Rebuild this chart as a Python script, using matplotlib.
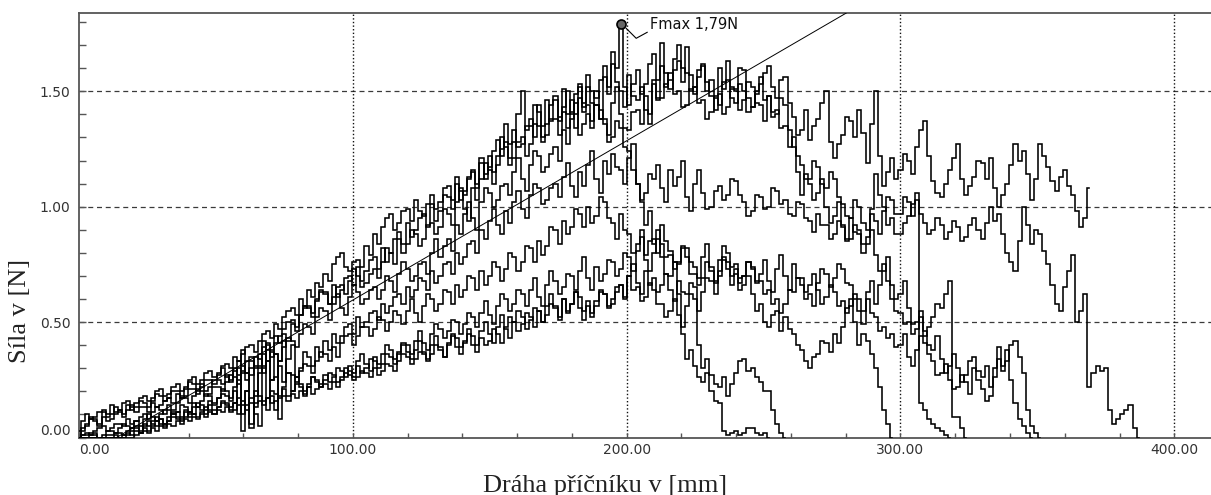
import numpy as np
import matplotlib
matplotlib.use("Agg")
import matplotlib.pyplot as plt
from matplotlib.lines import Line2D
from matplotlib.transforms import IdentityTransform

# Crosshead travel is sampled every 1.5 mm; each list holds the force [N] per sample
sample_step_mm = 1.5

force_1 = [0.03, 0.07, 0.10, 0.08, 0.09, 0.11, 0.12, 0.10, 0.14, 0.11, 0.12, 0.15, 0.16, 0.13, 0.15, 0.17, 0.18, 0.16, 0.17, 0.20,
           0.21, 0.18, 0.19, 0.22, 0.23, 0.20, 0.22, 0.25, 0.26, 0.23, 0.25, 0.28, 0.29, 0.26, 0.28, 0.31, 0.32, 0.30, 0.35, 0.33,
           0.36, 0.39, 0.40, 0.37, 0.42, 0.45, 0.46, 0.43, 0.49, 0.47, 0.52, 0.55, 0.56, 0.53, 0.60, 0.57, 0.64, 0.61, 0.67, 0.65,
           0.71, 0.68, 0.75, 0.78, 0.80, 0.74, 0.72, 0.76, 0.77, 0.74, 0.83, 0.79, 0.88, 0.84, 0.91, 0.95, 0.97, 0.90, 0.93, 0.98,
           0.99, 0.94, 1.03, 0.98, 0.96, 1.01, 1.05, 0.99, 1.02, 1.08, 1.09, 1.03, 1.13, 1.07, 1.05, 1.12, 1.16, 1.10, 1.21, 1.14,
           1.17, 1.24, 1.29, 1.22, 1.36, 1.27, 1.28, 1.40, 1.50, 1.33, 1.35, 1.44, 1.41, 1.30, 1.31, 1.38, 1.46, 1.37, 1.51, 1.40,
           1.41, 1.49, 1.53, 1.45, 1.57, 1.50, 1.47, 1.55, 1.61, 1.52, 1.67, 1.60, 1.79, 1.52, 1.44, 1.53, 1.59, 1.49, 1.53, 1.62,
           1.66, 1.55, 1.71, 1.58, 1.51, 1.59, 1.63, 1.54, 1.69, 1.57, 1.49, 1.56, 1.61, 1.50, 1.55, 1.47, 1.44, 1.54, 1.63, 1.52,
           1.51, 1.60, 1.59, 1.47, 1.43, 1.50, 1.53, 1.58, 1.61, 1.52, 1.47, 1.55, 1.56, 1.45, 1.39, 1.31, 1.33, 1.42, 1.29, 1.35,
           1.38, 1.45, 1.50, 1.28, 1.21, 1.27, 1.31, 1.39, 1.37, 1.30, 1.42, 1.32, 1.19, 1.36, 1.50, 1.22, 1.09, 1.15, 1.21, 1.12,
           1.16, 1.23, 1.20, 1.14, 1.26, 1.33, 1.37, 1.22, 1.11, 1.06, 1.04, 1.10, 1.16, 1.21, 1.27, 1.12, 1.05, 1.09, 1.13, 1.20,
           1.19, 1.12, 1.21, 1.08, 1.00, 1.05, 1.10, 1.18, 1.27, 1.20, 1.24, 1.14, 1.03, 1.12, 1.27, 1.22, 1.17, 1.11, 1.07, 1.13,
           1.16, 1.09, 1.05, 0.98, 0.91, 0.95, 1.08]

force_2 = [0.00, 0.04, 0.06, 0.09, 0.08, 0.06, 0.11, 0.09, 0.10, 0.13, 0.12, 0.10, 0.14, 0.12, 0.13, 0.16, 0.15, 0.13, 0.16, 0.19,
           0.18, 0.16, 0.17, 0.20, 0.20, 0.18, 0.21, 0.24, 0.23, 0.20, 0.22, 0.25, 0.25, 0.23, 0.27, 0.30, 0.26, 0.24, 0.29, 0.33,
           0.31, 0.28, 0.30, 0.35, 0.34, 0.31, 0.38, 0.35, 0.41, 0.44, 0.45, 0.42, 0.49, 0.46, 0.53, 0.57, 0.56, 0.52, 0.60, 0.64,
           0.63, 0.58, 0.61, 0.65, 0.66, 0.62, 0.68, 0.73, 0.70, 0.65, 0.67, 0.71, 0.73, 0.69, 0.76, 0.82, 0.80, 0.75, 0.86, 0.80,
           0.84, 0.90, 0.88, 0.83, 0.86, 0.92, 0.93, 0.88, 0.91, 0.99, 0.97, 0.92, 1.02, 1.08, 0.99, 0.94, 1.08, 1.03, 1.12, 1.19,
           1.16, 1.10, 1.22, 1.30, 1.26, 1.18, 1.21, 1.28, 1.30, 1.22, 1.27, 1.36, 1.35, 1.28, 1.46, 1.37, 1.38, 1.31, 1.43, 1.50,
           1.40, 1.34, 1.47, 1.41, 1.52, 1.45, 1.44, 1.38, 1.56, 1.49, 1.62, 1.54, 1.50, 1.43, 1.57, 1.48, 1.46, 1.52, 1.42, 1.36,
           1.53, 1.47, 1.61, 1.52, 1.55, 1.64, 1.70, 1.60, 1.58, 1.50, 1.52, 1.59, 1.62, 1.54, 1.48, 1.42, 1.60, 1.51, 1.55, 1.47,
           1.45, 1.53, 1.50, 1.41, 1.43, 1.49, 1.56, 1.46, 1.48, 1.39, 1.40, 1.47, 1.44, 1.33, 1.26, 1.15, 1.05, 1.14, 1.12, 1.20,
           1.17, 1.10, 1.08, 1.15, 1.12, 1.04, 1.01, 0.96, 0.95, 1.03, 1.00, 0.93, 0.90, 0.97, 0.94, 0.88, 0.98, 1.04, 1.03, 0.97,
           0.97, 1.04, 1.02, 0.96, 1.06, 0.15, 0.12, 0.08, 0.06, 0.04, 0.03, 0.01, 0.00]

force_3 = [0.00, 0.03, 0.05, 0.08, 0.07, 0.05, 0.09, 0.07, 0.08, 0.10, 0.11, 0.09, 0.12, 0.14, 0.11, 0.13, 0.13, 0.11, 0.15, 0.13,
           0.14, 0.16, 0.17, 0.15, 0.19, 0.17, 0.18, 0.21, 0.21, 0.19, 0.23, 0.20, 0.22, 0.25, 0.25, 0.23, 0.27, 0.25, 0.30, 0.27,
           0.29, 0.33, 0.33, 0.30, 0.36, 0.39, 0.41, 0.38, 0.44, 0.41, 0.47, 0.50, 0.51, 0.48, 0.53, 0.56, 0.57, 0.54, 0.59, 0.63,
           0.62, 0.58, 0.66, 0.61, 0.64, 0.69, 0.70, 0.66, 0.74, 0.68, 0.72, 0.77, 0.78, 0.73, 0.82, 0.76, 0.80, 0.86, 0.89, 0.84,
           0.93, 0.87, 0.90, 0.95, 0.97, 0.91, 1.01, 0.94, 0.98, 1.05, 1.04, 0.99, 1.10, 1.03, 1.07, 1.13, 1.15, 1.08, 1.19, 1.12,
           1.22, 1.15, 1.18, 1.25, 1.28, 1.21, 1.33, 1.26, 1.27, 1.35, 1.38, 1.30, 1.44, 1.35, 1.36, 1.44, 1.48, 1.39, 1.41, 1.34,
           1.46, 1.40, 1.52, 1.43, 1.44, 1.37, 1.50, 1.42, 1.38, 1.31, 1.45, 1.52, 1.40, 1.34, 1.33, 1.41, 1.42, 1.36, 1.48, 1.40,
           1.55, 1.46, 1.47, 1.53, 1.58, 1.49, 1.50, 1.43, 1.44, 1.51, 1.52, 1.45, 1.46, 1.38, 1.41, 1.48, 1.49, 1.40, 1.43, 1.51,
           1.50, 1.42, 1.46, 1.54, 1.52, 1.45, 1.44, 1.37, 1.48, 1.41, 1.42, 1.34, 1.35, 1.26, 1.30, 1.22, 1.18, 1.12, 1.10, 1.03,
           1.06, 1.12, 1.00, 0.93, 0.96, 1.02, 0.92, 0.86, 0.95, 0.89, 0.88, 0.80, 0.84, 0.90, 0.79, 0.72, 0.72, 0.78, 0.66, 0.60,
           0.62, 0.68, 0.56, 0.49, 0.50, 0.55, 0.46, 0.40, 0.38, 0.44, 0.34, 0.28, 0.31, 0.36, 0.30, 0.24, 0.27, 0.33, 0.35, 0.29,
           0.26, 0.31, 0.22, 0.30, 0.39, 0.31, 0.33, 0.40, 0.42, 0.35, 0.28, 0.12, 0.05, 0.02, 0.00]

force_4 = [0.00, 0.01, 0.02, 0.01, 0.03, 0.04, 0.05, 0.03, 0.04, 0.06, 0.06, 0.05, 0.08, 0.06, 0.07, 0.09, 0.10, 0.08, 0.11, 0.13,
           0.12, 0.10, 0.14, 0.12, 0.15, 0.17, 0.17, 0.15, 0.18, 0.21, 0.20, 0.18, 0.19, 0.22, 0.22, 0.20, 0.24, 0.27, 0.26, 0.23,
           0.28, 0.25, 0.27, 0.31, 0.31, 0.28, 0.33, 0.37, 0.36, 0.33, 0.39, 0.43, 0.42, 0.39, 0.45, 0.49, 0.48, 0.45, 0.52, 0.56,
           0.55, 0.51, 0.58, 0.62, 0.56, 0.53, 0.61, 0.66, 0.63, 0.58, 0.60, 0.64, 0.65, 0.60, 0.64, 0.70, 0.68, 0.63, 0.71, 0.76,
           0.73, 0.68, 0.70, 0.75, 0.76, 0.71, 0.80, 0.86, 0.78, 0.83, 0.86, 0.81, 0.92, 0.88, 0.97, 1.02, 0.95, 0.90, 1.02, 1.08,
           1.06, 1.00, 1.03, 1.09, 1.10, 1.05, 1.15, 1.21, 1.12, 1.07, 1.18, 1.24, 1.22, 1.15, 1.17, 1.23, 1.26, 1.20, 1.33, 1.27,
           1.38, 1.45, 1.31, 1.36, 1.40, 1.34, 1.44, 1.38, 1.36, 1.28, 1.30, 1.37, 1.34, 1.26, 1.24, 1.16, 1.10, 1.02, 0.92, 0.98,
           0.84, 0.90, 0.78, 0.71, 0.70, 0.76, 0.62, 0.45, 0.34, 0.38, 0.31, 0.26, 0.24, 0.28, 0.20, 0.16, 0.15, 0.03, 0.01, 0.02,
           0.03, 0.01, 0.02, 0.04, 0.04, 0.02, 0.01, 0.02, 0.00]

force_5 = [0.00, 0.00, 0.00, 0.01, 0.01, 0.00, 0.00, 0.01, 0.01, 0.02, 0.02, 0.01, 0.03, 0.04, 0.05, 0.03, 0.06, 0.05, 0.07, 0.09,
           0.08, 0.06, 0.09, 0.11, 0.11, 0.09, 0.12, 0.10, 0.13, 0.15, 0.14, 0.12, 0.16, 0.14, 0.17, 0.19, 0.18, 0.16, 0.20, 0.10,
           0.38, 0.28, 0.06, 0.18, 0.30, 0.42, 0.12, 0.25, 0.36, 0.08, 0.22, 0.34, 0.40, 0.26, 0.30, 0.37, 0.35, 0.31, 0.39, 0.35,
           0.42, 0.38, 0.45, 0.41, 0.44, 0.48, 0.49, 0.45, 0.52, 0.48, 0.50, 0.54, 0.55, 0.51, 0.58, 0.54, 0.57, 0.61, 0.62, 0.58,
           0.65, 0.61, 0.64, 0.69, 0.68, 0.64, 0.72, 0.67, 0.70, 0.75, 0.76, 0.71, 0.80, 0.75, 0.78, 0.84, 0.85, 0.80, 0.90, 0.86,
           0.94, 0.99, 0.92, 0.88, 0.98, 0.93, 1.02, 1.07, 0.99, 0.95, 1.05, 1.10, 1.08, 1.01, 1.03, 1.08, 1.10, 1.04, 1.13, 1.19,
           1.09, 1.04, 1.15, 1.09, 1.18, 1.24, 1.12, 1.06, 1.20, 1.14, 1.23, 1.17, 1.16, 1.10, 1.21, 1.27, 1.10, 1.03, 1.06, 1.14,
           1.12, 1.18, 1.08, 1.02, 1.16, 1.09, 1.13, 1.20, 1.04, 0.98, 1.10, 1.16, 1.06, 0.99, 1.00, 1.07, 1.09, 1.03, 1.05, 1.12,
           1.11, 1.05, 1.02, 0.96, 0.98, 1.05, 1.04, 0.99, 1.00, 1.08, 1.07, 1.01, 1.03, 0.97, 0.96, 1.02, 1.01, 0.95, 0.94, 0.89,
           0.97, 0.92, 0.92, 0.86, 0.88, 0.94, 0.91, 0.85, 0.86, 0.92, 0.90, 0.84, 0.87, 0.99, 1.14, 1.05, 1.00, 0.92, 0.95, 0.88,
           0.88, 0.93, 0.96, 1.01, 1.03, 0.97, 0.93, 0.88, 0.90, 0.95, 0.92, 0.86, 0.89, 0.94, 0.91, 0.85, 0.87, 0.92, 0.95, 0.90,
           0.86, 0.93, 1.00, 0.94, 0.97, 0.88, 0.80, 0.76, 0.72, 0.85, 1.00, 0.92, 0.84, 0.90, 0.88, 0.81, 0.75, 0.66, 0.58, 0.55,
           0.65, 0.72, 0.79, 0.50, 0.55, 0.62, 0.22, 0.28, 0.31, 0.29, 0.30, 0.12, 0.06, 0.08, 0.10, 0.12, 0.14, 0.04, 0.00]

force_6 = [0.00, 0.01, 0.01, 0.02, 0.02, 0.00, 0.01, 0.03, 0.03, 0.02, 0.04, 0.06, 0.05, 0.04, 0.07, 0.05, 0.08, 0.10, 0.09, 0.07,
           0.10, 0.12, 0.12, 0.10, 0.11, 0.14, 0.13, 0.11, 0.15, 0.13, 0.16, 0.19, 0.18, 0.15, 0.17, 0.21, 0.20, 0.17, 0.22, 0.30,
           0.10, 0.20, 0.04, 0.15, 0.28, 0.36, 0.33, 0.25, 0.26, 0.31, 0.24, 0.28, 0.27, 0.24, 0.29, 0.32, 0.31, 0.28, 0.33, 0.37,
           0.36, 0.33, 0.39, 0.35, 0.41, 0.44, 0.45, 0.40, 0.44, 0.48, 0.48, 0.44, 0.47, 0.52, 0.51, 0.46, 0.50, 0.55, 0.53, 0.49,
           0.55, 0.60, 0.54, 0.50, 0.57, 0.62, 0.60, 0.55, 0.58, 0.64, 0.63, 0.58, 0.66, 0.61, 0.64, 0.70, 0.69, 0.64, 0.72, 0.66,
           0.70, 0.76, 0.74, 0.68, 0.73, 0.80, 0.78, 0.72, 0.76, 0.83, 0.82, 0.76, 0.85, 0.79, 0.83, 0.91, 0.90, 0.84, 0.94, 0.88,
           0.91, 0.99, 0.97, 0.91, 1.00, 0.93, 0.96, 1.04, 1.02, 0.95, 0.93, 0.86, 0.97, 0.90, 0.88, 0.80, 0.84, 0.90, 0.79, 0.85,
           0.86, 0.80, 0.92, 0.85, 0.81, 0.76, 0.75, 0.82, 0.78, 0.71, 0.71, 0.66, 0.69, 0.76, 0.74, 0.68, 0.70, 0.77, 0.73, 0.66,
           0.71, 0.64, 0.66, 0.70, 0.62, 0.55, 0.58, 0.50, 0.48, 0.53, 0.55, 0.46, 0.52, 0.47, 0.45, 0.40, 0.38, 0.33, 0.30, 0.35,
           0.36, 0.42, 0.41, 0.37, 0.45, 0.41, 0.48, 0.56, 0.60, 0.50, 0.40, 0.45, 0.42, 0.36, 0.30, 0.22, 0.12, 0.06, 0.00]

force_7 = [0.00, 0.00, 0.00, 0.00, 0.00, 0.00, 0.00, 0.00, 0.00, 0.01, 0.00, 0.00, 0.01, 0.03, 0.04, 0.02, 0.05, 0.07, 0.06, 0.05,
           0.08, 0.06, 0.07, 0.10, 0.09, 0.08, 0.11, 0.09, 0.10, 0.13, 0.12, 0.10, 0.14, 0.12, 0.13, 0.16, 0.15, 0.13, 0.15, 0.25,
           0.03, 0.20, 0.35, 0.10, 0.05, 0.30, 0.40, 0.18, 0.12, 0.33, 0.42, 0.28, 0.20, 0.26, 0.23, 0.19, 0.22, 0.26, 0.25, 0.22,
           0.27, 0.24, 0.26, 0.30, 0.29, 0.26, 0.31, 0.28, 0.33, 0.36, 0.32, 0.29, 0.35, 0.32, 0.36, 0.40, 0.38, 0.34, 0.37, 0.41,
           0.40, 0.36, 0.42, 0.46, 0.41, 0.38, 0.45, 0.49, 0.47, 0.43, 0.46, 0.51, 0.50, 0.45, 0.49, 0.54, 0.52, 0.48, 0.54, 0.59,
           0.53, 0.49, 0.57, 0.62, 0.60, 0.55, 0.58, 0.64, 0.62, 0.57, 0.64, 0.69, 0.61, 0.57, 0.66, 0.72, 0.68, 0.62, 0.65, 0.71,
           0.70, 0.64, 0.72, 0.78, 0.69, 0.64, 0.74, 0.68, 0.71, 0.77, 0.76, 0.70, 0.73, 0.80, 0.78, 0.72, 0.81, 0.87, 0.77, 0.72,
           0.80, 0.86, 0.84, 0.78, 0.79, 0.73, 0.76, 0.83, 0.82, 0.76, 0.74, 0.69, 0.78, 0.84, 0.72, 0.67, 0.77, 0.83, 0.80, 0.74,
           0.75, 0.69, 0.70, 0.76, 0.73, 0.67, 0.68, 0.62, 0.64, 0.58, 0.60, 0.54, 0.58, 0.64, 0.63, 0.69, 0.66, 0.60, 0.62, 0.57,
           0.67, 0.73, 0.71, 0.65, 0.69, 0.75, 0.73, 0.67, 0.66, 0.60, 0.60, 0.55, 0.63, 0.68, 0.58, 0.66, 0.75, 0.68, 0.60, 0.55,
           0.54, 0.49, 0.50, 0.45, 0.47, 0.52, 0.44, 0.48, 0.52, 0.58, 0.56, 0.62, 0.68, 0.09, 0.09, 0.04, 0.00]

force_8 = [0.00, 0.00, 0.00, 0.00, 0.00, 0.00, 0.00, 0.00, 0.00, 0.00, 0.00, 0.01, 0.02, 0.01, 0.03, 0.02, 0.04, 0.03, 0.05, 0.07,
           0.06, 0.05, 0.07, 0.09, 0.08, 0.07, 0.09, 0.11, 0.10, 0.09, 0.11, 0.13, 0.12, 0.10, 0.13, 0.15, 0.14, 0.12, 0.15, 0.17,
           0.16, 0.14, 0.17, 0.20, 0.18, 0.16, 0.17, 0.20, 0.19, 0.17, 0.21, 0.18, 0.20, 0.23, 0.22, 0.20, 0.23, 0.26, 0.24, 0.22,
           0.25, 0.28, 0.27, 0.24, 0.26, 0.30, 0.29, 0.26, 0.31, 0.28, 0.30, 0.34, 0.33, 0.30, 0.32, 0.36, 0.35, 0.32, 0.36, 0.40,
           0.37, 0.34, 0.38, 0.42, 0.36, 0.33, 0.40, 0.44, 0.39, 0.35, 0.41, 0.45, 0.43, 0.39, 0.42, 0.47, 0.44, 0.40, 0.46, 0.50,
           0.45, 0.41, 0.48, 0.53, 0.47, 0.43, 0.50, 0.55, 0.52, 0.47, 0.51, 0.56, 0.55, 0.50, 0.57, 0.62, 0.56, 0.51, 0.60, 0.54,
           0.58, 0.63, 0.61, 0.55, 0.57, 0.52, 0.59, 0.64, 0.62, 0.56, 0.58, 0.63, 0.66, 0.60, 0.70, 0.64, 0.65, 0.59, 0.61, 0.67,
           0.64, 0.58, 0.58, 0.52, 0.55, 0.60, 0.53, 0.48, 0.57, 0.62, 0.60, 0.55, 0.63, 0.69, 0.68, 0.62, 0.72, 0.78, 0.76, 0.70,
           0.73, 0.67, 0.70, 0.76, 0.74, 0.68, 0.71, 0.77, 0.68, 0.63, 0.73, 0.79, 0.70, 0.64, 0.75, 0.69, 0.69, 0.63, 0.66, 0.71,
           0.64, 0.58, 0.61, 0.66, 0.63, 0.57, 0.59, 0.54, 0.57, 0.62, 0.55, 0.49, 0.60, 0.54, 0.52, 0.46, 0.48, 0.43, 0.45, 0.39,
           0.40, 0.45, 0.35, 0.31, 0.38, 0.44, 0.41, 0.36, 0.33, 0.27, 0.28, 0.32, 0.25, 0.21, 0.22, 0.27, 0.24, 0.19, 0.30, 0.25,
           0.21, 0.16, 0.18, 0.26, 0.34, 0.29, 0.38, 0.25, 0.15, 0.08, 0.05, 0.02, 0.00]

force_9 = [0.00, 0.00, 0.00, 0.00, 0.00, 0.00, 0.00, 0.00, 0.00, 0.00, 0.00, 0.00, 0.00, 0.00, 0.01, 0.02, 0.03, 0.02, 0.04, 0.03,
           0.05, 0.04, 0.06, 0.05, 0.07, 0.06, 0.08, 0.07, 0.09, 0.08, 0.10, 0.09, 0.11, 0.10, 0.12, 0.11, 0.13, 0.11, 0.12, 0.14,
           0.14, 0.12, 0.15, 0.13, 0.16, 0.14, 0.17, 0.15, 0.16, 0.18, 0.18, 0.16, 0.19, 0.17, 0.20, 0.18, 0.22, 0.19, 0.21, 0.23,
           0.23, 0.21, 0.24, 0.22, 0.25, 0.28, 0.27, 0.25, 0.26, 0.29, 0.28, 0.26, 0.30, 0.27, 0.29, 0.32, 0.31, 0.29, 0.33, 0.36,
           0.35, 0.32, 0.34, 0.37, 0.37, 0.34, 0.36, 0.40, 0.38, 0.35, 0.40, 0.44, 0.39, 0.36, 0.41, 0.45, 0.40, 0.37, 0.43, 0.40,
           0.42, 0.47, 0.45, 0.41, 0.48, 0.52, 0.50, 0.46, 0.49, 0.54, 0.52, 0.48, 0.55, 0.50, 0.53, 0.58, 0.57, 0.52, 0.60, 0.55,
           0.58, 0.63, 0.56, 0.51, 0.59, 0.54, 0.57, 0.63, 0.62, 0.57, 0.60, 0.65, 0.66, 0.61, 0.70, 0.75, 0.67, 0.62, 0.72, 0.66,
           0.69, 0.63, 0.66, 0.71, 0.64, 0.59, 0.68, 0.63, 0.62, 0.67, 0.65, 0.40, 0.30, 0.34, 0.27, 0.23, 0.22, 0.26, 0.18, 0.23,
           0.28, 0.33, 0.34, 0.29, 0.30, 0.26, 0.24, 0.20, 0.20, 0.12, 0.06, 0.02, 0.00]

specimens = [force_1, force_2, force_3, force_4, force_5,
             force_6, force_7, force_8, force_9]

# Straight reference line through the loading part of the curves
tangent_x0_mm = 13.7
tangent_slope = 0.0069  # N per mm

x_major = [0, 100, 200, 300, 400]
x_labels = ["0.00", "100.00", "200.00", "300.00", "400.00"]
y_major = [0.0, 0.5, 1.0, 1.5]
y_labels = ["0.00", "0.50", "1.00", "1.50"]
x_max, y_max = 413.4, 1.839

fig = plt.figure(figsize=(12.11, 4.95), dpi=100)
fig.patch.set_facecolor("white")
ax = fig.add_axes([0.06524, 0.11616, 0.93476, 0.85758])
ax.set_xlim(0, x_max)
ax.set_ylim(0, y_max)

# grid: dashed horizontal, dotted vertical
for yv in y_major[1:]:
    ax.axhline(yv, color="#3a3a3a", lw=0.9, ls=(0, (4, 3)), zorder=1)
for xv in x_major[1:]:
    ax.axvline(xv, color="#111111", lw=1.0, ls=(0, (1, 1.6)), zorder=1)

for f in specimens:
    xs = sample_step_mm * np.arange(len(f))
    ax.plot(xs, f, color="black", lw=1.15, drawstyle="steps-mid",
            solid_joinstyle="miter", zorder=3)

ax.axline((tangent_x0_mm, 0.0), slope=tangent_slope, color="black",
          lw=0.7, zorder=4)

# maximum force marker and label
all_x = np.concatenate([sample_step_mm * np.arange(len(f)) for f in specimens])
all_f = np.concatenate([np.asarray(f) for f in specimens])
imax = int(np.argmax(all_f))
fmax_x, fmax = all_x[imax], all_f[imax]
ax.plot([fmax_x], [fmax], marker="o", ms=6.5, mfc="#666666", mec="black",
        mew=1.2, zorder=6, clip_on=False)
px, py = ax.transData.transform((fmax_x, fmax))
leader = Line2D([px + 5, px + 15, px + 26], [py - 4, py - 14, py - 8],
                transform=IdentityTransform(), color="black", lw=0.8)
fig.add_artist(leader)
ax.annotate("Fmax " + f"{fmax:.2f}".replace(".", ",") + "N",
            xy=(fmax_x, fmax), xytext=(29, 0), textcoords="offset pixels",
            ha="left", va="center", fontsize=10.5, family="DejaVu Sans",
            color="#111111")

# axes frame
for side in ("left", "bottom", "top"):
    ax.spines[side].set_color("#555555")
    ax.spines[side].set_linewidth(1.3)
ax.spines["right"].set_visible(False)

ax.set_xticks(x_major, labels=x_labels)
ax.set_yticks(y_major, labels=y_labels)
ax.set_xticks(np.arange(0, 420, 20), minor=True)
ax.set_yticks(np.arange(0, 1.84, 0.1), minor=True)
ax.tick_params(axis="both", which="both", direction="in", color="#555555",
               labelcolor="#333333", labelsize=10, top=False, right=False)
ax.tick_params(axis="y", which="both", length=5, width=1.0, pad=6)
ax.tick_params(axis="x", which="both", length=3.5, width=1.0, pad=4)
ax.get_xticklabels()[0].set_ha("left")
ax.get_yticklabels()[0].set_va("bottom")

fig.text(605 / 1211, 1 - 492 / 495, "Dráha příčníku v [mm]", ha="center",
         va="baseline", fontsize=19, family="Liberation Serif",
         color="#222222")
fig.text(20 / 1211, 1 - 311 / 495, "Síla v [N]", ha="center", va="center",
         rotation=90, fontsize=19, family="Liberation Serif",
         color="#222222")

fig.savefig("out.png", dpi=100, facecolor="white")
